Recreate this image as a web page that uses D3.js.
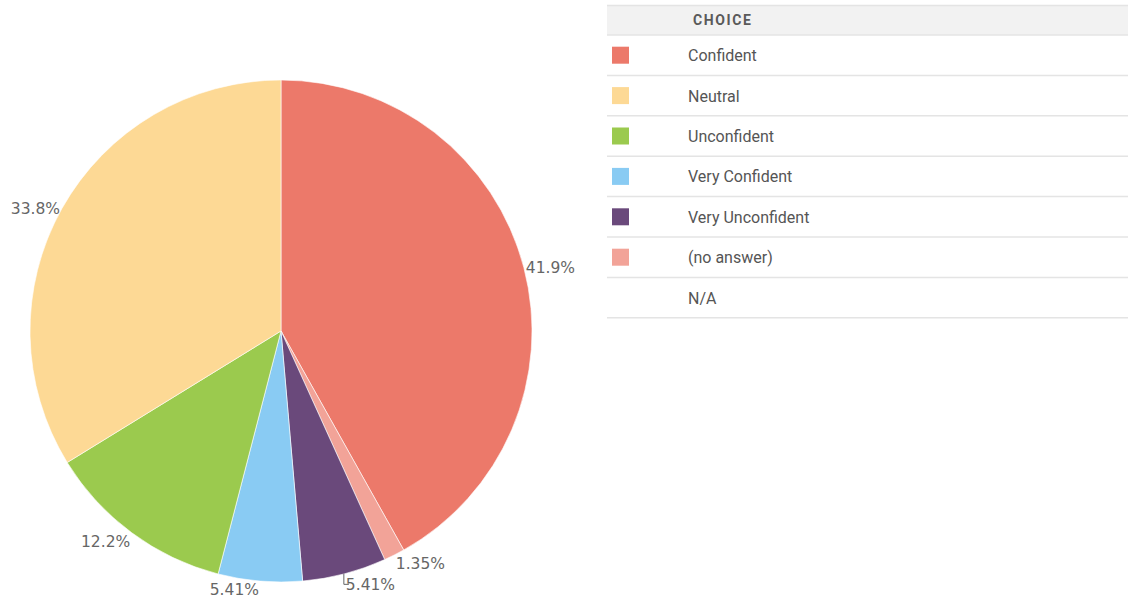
<!DOCTYPE html>
<html>
<head>
<meta charset="utf-8">
<script src="https://cdn.jsdelivr.net/npm/d3@7"></script>
<style>
  html, body { margin: 0; padding: 0; background: #fff; }
  svg { display: block; }
</style>
</head>
<body>
<svg id="chart" width="1128" height="601"></svg>
<script>
// Survey answers, clockwise from 12 o'clock
const categories = ["Confident", "(no answer)", "Very Unconfident", "Very Confident", "Unconfident", "Neutral"];
const percents   = [41.9, 1.35, 5.41, 5.41, 12.2, 33.8];
const labels     = ["41.9%", "1.35%", "5.41%", "5.41%", "12.2%", "33.8%"];

// Legend rows, in table order
const legendItems = ["Confident", "Neutral", "Unconfident", "Very Confident", "Very Unconfident", "(no answer)", "N/A"];
const legendHeader = "CHOICE";

const colorDomain = ["Confident", "Neutral", "Unconfident", "Very Confident", "Very Unconfident", "(no answer)"];
const colorRange  = ["#EC796A", "#FDD995", "#9BCA4E", "#89CBF3", "#6A497B", "#F2A398"];

const svg = d3.select("#chart");
const color = d3.scaleOrdinal().domain(colorDomain).range(colorRange);

// ---- Pie ----
const cx = 281, cy = 331, R = 251;
const data = categories.map((c, i) => ({ name: c, value: percents[i], label: labels[i] }));

const pie = d3.pie().value(d => d.value).sort(null).startAngle(0).endAngle(2 * Math.PI);
const arcs = pie(data);
const arc = d3.arc().innerRadius(0).outerRadius(R);

const g = svg.append("g").attr("transform", `translate(${cx},${cy})`);
g.selectAll("path.slice")
  .data(arcs)
  .join("path")
  .attr("class", "slice")
  .attr("d", arc)
  .attr("fill", d => color(d.data.name))
  .attr("stroke", "#fff")
  .attr("stroke-width", 0.6);

// ---- Slice labels ----
const fontSize = 15.5, lineH = 15, minGap = 7;
const labelPos = arcs.map(d => {
  const a = (d.startAngle + d.endAngle) / 2;
  const px = Math.sin(a) * (R + 1);
  const py = -Math.cos(a) * (R + 1);
  const right = Math.sin(a) >= 0;
  // text box vertical centre: centred near the sides, hanging below on the lower half
  const yc = py + (Math.cos(a) < 0 ? lineH / 2 : 0);
  return { d, a, px, py, right, yc, x: px, shifted: false };
});

// push overlapping labels on the right side downward
const rightSide = labelPos.filter(l => l.right).sort((p, q) => p.yc - q.yc);
for (let i = 1; i < rightSide.length; i++) {
  const prev = rightSide[i - 1], cur = rightSide[i];
  const need = prev.yc + lineH + minGap - 1;
  if (cur.yc - lineH / 2 < prev.yc + lineH / 2 + minGap && Math.abs(cur.px - prev.px) < 60) {
    cur.yc = Math.max(cur.yc, need);
    cur.shifted = true;
  }
}

const lg = g.append("g").attr("class", "slice-labels");
labelPos.forEach(l => {
  let tx = l.x;
  if (l.shifted) {
    // short elbow leader from the slice edge to the moved label
    const lx = l.px - 1;
    lg.append("path")
      .attr("d", `M${lx},${l.py - 1}V${l.yc}H${lx + 5}`)
      .attr("fill", "none")
      .attr("stroke", "#666")
      .attr("stroke-width", 1);
    tx = lx + 1;
  }
  lg.append("text")
    .attr("x", l.right ? tx + 1 : tx - 1)
    .attr("y", l.yc)
    .attr("dy", "0.36em")
    .attr("text-anchor", l.right ? "start" : "end")
    .attr("font-family", "'DejaVu Sans', Verdana, sans-serif")
    .attr("font-size", fontSize)
    .attr("fill", "#666")
    .text(l.d.data.label);
});

// ---- Legend table ----
const tx0 = 607, tw = 1128 - 607, headTop = 5, headH = 30, rowH = 40.4;
const table = svg.append("g").attr("class", "legend");

table.append("rect")
  .attr("x", tx0).attr("y", headTop).attr("width", tw).attr("height", headH)
  .attr("fill", "#f2f2f2");
table.append("line")
  .attr("x1", tx0).attr("x2", tx0 + tw).attr("y1", headTop + 0.5).attr("y2", headTop + 0.5)
  .attr("stroke", "#e4e4e4").attr("stroke-width", 1.5);
table.append("text")
  .attr("x", 693).attr("y", headTop + headH / 2).attr("dy", "0.35em")
  .attr("font-family", "Roboto, sans-serif").attr("font-size", 14).attr("font-weight", 700)
  .attr("letter-spacing", "1.6px").attr("fill", "#5a5a5a")
  .text(legendHeader);

const rowTop = headTop + headH;
table.append("line")
  .attr("x1", tx0).attr("x2", tx0 + tw).attr("y1", rowTop).attr("y2", rowTop)
  .attr("stroke", "#e4e4e4").attr("stroke-width", 1.5);

const rows = table.selectAll("g.row")
  .data(legendItems)
  .join("g")
  .attr("class", "row")
  .attr("transform", (d, i) => `translate(0,${rowTop + i * rowH})`);

rows.append("line")
  .attr("x1", tx0).attr("x2", tx0 + tw)
  .attr("y1", rowH).attr("y2", rowH)
  .attr("stroke", "#e4e4e4").attr("stroke-width", 1.5);

rows.filter(d => colorDomain.includes(d))
  .append("rect")
  .attr("x", 612).attr("y", rowH / 2 - 8.5)
  .attr("width", 17).attr("height", 17)
  .attr("fill", d => color(d));

rows.append("text")
  .attr("x", 688).attr("y", rowH / 2 + 0.5).attr("dy", "0.35em")
  .attr("font-family", "Roboto, sans-serif").attr("font-size", 16)
  .attr("fill", "#555")
  .text(d => d);
</script>
</body>
</html>
